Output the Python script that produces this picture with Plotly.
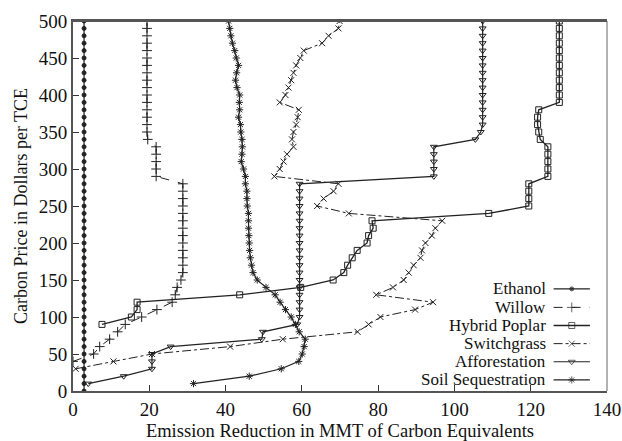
import plotly.graph_objects as go

# carbon price (dollars per TCE) for each series
ethanol_price = [0, 10, 20, 30, 40, 50, 60, 70, 80, 90, 100, 110, 120, 130, 140, 150, 160, 170, 180, 190, 200,
                 210, 220, 230, 240, 250, 260, 270, 280, 290, 300, 310, 320, 330, 340, 350, 360, 370, 380, 390,
                 400, 410, 420, 430, 440, 450, 460, 470, 480, 490, 500]
ethanol = [2.9, 2.9, 2.9, 2.9, 2.9, 2.9, 2.9, 2.9, 2.9, 2.9, 2.9, 2.9, 2.9, 2.9, 2.9, 2.9, 2.9, 2.9, 2.9, 2.9, 2.9,
           2.9, 2.9, 2.9, 2.9, 2.9, 2.9, 2.9, 2.9, 2.9, 2.9, 2.9, 2.9, 2.9, 2.9, 2.9, 2.9, 2.9, 2.9, 2.9,
           2.9, 2.9, 2.9, 2.9, 2.9, 2.9, 2.9, 2.9, 2.9, 2.9, 2.9]

willow_price = [40, 50, 60, 70, 80, 90, 100, 110, 120, 130, 140, 150, 160, 170, 180, 190, 200, 210, 220, 230,
                240, 250, 260, 270, 280, 290, 300, 310, 320, 330, 340, 350, 360, 370, 380, 390, 400, 410, 420,
                430, 440, 450, 460, 470, 480, 490, 500]
willow = [0.0, 5.4, 7.0, 9.6, 11.7, 13.7, 18.0, 22.0, 26.0, 26.8, 27.3, 28.3, 28.8, 28.8, 28.8, 28.8, 28.8, 28.8,
          28.8, 28.8, 28.8, 28.8, 28.8, 28.8, 28.8, 21.8, 21.8, 21.8, 21.8, 21.8, 19.6, 19.4, 19.4, 19.4, 19.4,
          19.4, 19.4, 19.4, 19.4, 19.4, 19.4, 19.4, 19.4, 19.4, 19.4, 19.4, 19.4]

poplar_price = [90, 100, 110, 120, 130, 140, 150, 160, 170, 180, 190, 200, 210, 220, 230, 240, 250, 260, 270,
                280, 290, 300, 310, 320, 330, 340, 350, 360, 370, 380, 390, 400, 410, 420, 430, 440, 450, 460,
                470, 480, 490, 500]
poplar = [7.6, 15.3, 16.8, 16.8, 43.7, 59.7, 68.2, 71.0, 72.0, 73.2, 74.5, 77.1, 77.5, 78.7, 78.4, 109.0, 119.5,
          119.5, 119.5, 119.5, 124.5, 124.5, 124.5, 124.5, 124.5, 122.5, 122.1, 121.8, 121.8, 122.1, 127.5,
          127.5, 127.5, 127.5, 127.5, 127.5, 127.5, 127.5, 127.5, 127.5, 127.5, 127.5]

switch_price = [30, 40, 50, 60, 70, 80, 90, 100, 110, 120, 130, 140, 150, 160, 170, 180, 190, 200, 210, 220,
                230, 240, 250, 260, 270, 280, 290, 300, 310, 320, 330, 340, 350, 360, 370, 380, 390, 400, 410,
                420, 430, 440, 450, 460, 470, 480, 490, 500]
switchgrass = [0.7, 10.6, 20.7, 41.2, 55.0, 74.6, 77.5, 80.6, 89.7, 94.4, 79.5, 83.9, 86.7, 88.0, 89.3, 91.1,
               91.5, 92.4, 94.1, 95.0, 96.8, 72.3, 64.0, 65.7, 68.3, 69.6, 52.8, 54.2, 55.2, 56.1, 57.8, 57.4,
               57.8, 58.5, 58.9, 59.2, 54.2, 55.7, 56.5, 57.2, 57.8, 58.5, 59.6, 60.5, 65.3, 67.0, 69.6, 69.9]

affor_price = [10, 20, 30, 40, 50, 60, 70, 80, 90, 100, 110, 120, 130, 140, 150, 160, 170, 180, 190, 200, 210,
               220, 230, 240, 250, 260, 270, 280, 290, 300, 310, 320, 330, 340, 350, 360, 370, 380, 390, 400,
               410, 420, 430, 440, 450, 460, 470, 480, 490, 500]
afforestation = [4.0, 13.3, 20.7, 20.7, 20.7, 25.6, 49.5, 49.8, 58.8, 59.4, 59.4, 59.4, 59.4, 59.4, 59.4, 59.4,
                 59.4, 59.4, 59.4, 59.4, 59.4, 59.4, 59.4, 59.4, 59.4, 59.4, 59.4, 59.4, 94.6, 94.6, 94.6, 94.6,
                 94.6, 105.5, 106.9, 107.4, 107.4, 107.4, 107.4, 107.4, 107.4, 107.4, 107.4, 107.4, 107.4,
                 107.4, 107.4, 107.4, 107.4, 107.4]

soil_price = affor_price
soil = [31.6, 46.2, 54.6, 59.2, 60.1, 60.6, 60.9, 59.3, 58.3, 57.2, 55.7, 54.3, 53.0, 50.6, 48.3, 47.2, 46.8,
        46.5, 46.3, 46.2, 46.1, 46.0, 46.0, 46.0, 45.7, 45.6, 45.6, 45.2, 45.2, 44.7, 44.1, 44.3, 44.4, 44.3,
        44.0, 43.9, 43.4, 43.7, 43.6, 43.7, 43.0, 42.6, 42.9, 43.4, 42.8, 42.4, 41.8, 41.4, 41.1, 40.8]

names = ["Ethanol", "Willow", "Hybrid Poplar", "Switchgrass", "Afforestation", "Soil Sequestration"]
xs = [ethanol, willow, poplar, switchgrass, afforestation, soil]
ys = [ethanol_price, willow_price, poplar_price, switch_price, affor_price, soil_price]
symbols = ["circle", "cross-thin", "square-open", "x-thin", "triangle-down-open", "asterisk-open"]
dashes = ["solid", "dash", "solid", "dashdot", "solid", "solid"]
sizes = [4, 7, 6, 6, 6, 6]
widths = [1.2, 1, 1.3, 1, 1.2, 1.2]

FONT = "Liberation Serif"
fig = go.Figure()

for name, x, y, sym, dash, sz, w in zip(names, xs, ys, symbols, dashes, sizes, widths):
    fig.add_trace(go.Scatter(
        x=x, y=y, mode="lines+markers", name=name, showlegend=False,
        line=dict(color="#222", width=w, dash=dash),
        marker=dict(symbol=sym, size=sz, color="#222", line=dict(color="#222", width=1)),
    ))

# legend in gnuplot style: text on the left, sample on the right
leg_y = [0.276, 0.226, 0.177, 0.128, 0.079, 0.030]
for name, sym, dash, sz, w, ly in zip(names, symbols, dashes, sizes, widths, leg_y):
    fig.add_annotation(x=0.89, y=ly, xref="paper", yref="paper", text=name, showarrow=False,
                       xanchor="right", yanchor="middle",
                       font=dict(family=FONT, size=17, color="#111"))
    fig.add_trace(go.Scatter(
        x=[0.9, 0.934, 0.968], y=[ly, ly, ly], xaxis="x2", yaxis="y2", mode="lines+markers",
        showlegend=False, hoverinfo="skip",
        line=dict(color="#222", width=w, dash=dash),
        marker=dict(symbol=sym, size=[0, sz, 0], color="#222", line=dict(color="#222", width=1)),
    ))

fig.update_layout(
    width=622, height=441,
    margin=dict(l=73, r=15, t=21, b=50, autoexpand=False),
    plot_bgcolor="white", paper_bgcolor="white",
    font=dict(family=FONT, size=19, color="#111"),
    xaxis=dict(range=[0, 140], dtick=20, ticks="inside", ticklen=6, tickcolor="#333",
               showgrid=False, zeroline=False, showline=True, linecolor="#555", linewidth=2, mirror=True,
               title=dict(text="Emission Reduction in MMT of Carbon Equivalents", font=dict(size=18.5), standoff=6)),
    yaxis=dict(range=[0, 500], dtick=50, ticks="inside", ticklen=6, tickcolor="#333",
               showgrid=False, zeroline=False, showline=True, linecolor="#555", linewidth=2,
               title=dict(text="Carbon Price in Dollars per TCE", font=dict(size=18), standoff=6)),
    xaxis2=dict(range=[0, 1], overlaying="x", visible=False, fixedrange=True),
    yaxis2=dict(range=[0, 1], overlaying="y", visible=False, fixedrange=True),
    shapes=[dict(type="line", xref="paper", yref="paper", x0=1, x1=1, y0=0, y1=1,
                 line=dict(color="#666", width=1)),
            dict(type="line", xref="paper", yref="paper", x0=0, x1=1, y0=1, y1=1,
                 line=dict(color="#555", width=2))],
)

fig.write_html("out.html", config={"displayModeBar": False},
               post_script="document.body.style.margin='0';document.body.style.overflow='hidden';")
